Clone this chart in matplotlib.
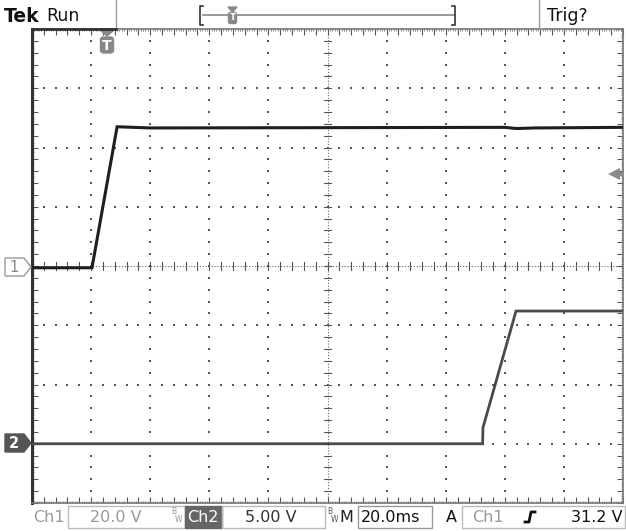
import numpy as np
import matplotlib
matplotlib.use("Agg")
import matplotlib.pyplot as plt
from matplotlib.patches import Polygon, Rectangle, FancyBboxPatch

# scope settings
ch1_scale = 20.0      # V/div
ch2_scale = 5.00      # V/div
time_scale = 20.0     # ms/div
ch2_offset = -3.0     # div
trig_level = 31.2     # V

# Ch1 trace (ms, V)
ch1_t = [0, 20.3, 28.8, 40, 160, 164, 170, 200]
ch1_v = [-0.6, -0.6, 47.0, 46.6, 46.8, 46.4, 46.6, 46.8]

# Ch2 trace (ms, V)
ch2_t = [0, 152.5, 152.6, 163.8, 200]
ch2_v = [0.0, 0.0, 1.35, 11.2, 11.2]

W, H = 626, 531
fig = plt.figure(figsize=(W / 100, H / 100), dpi=100)
fig.patch.set_facecolor("white")

# graticule axes (10 x 8 divisions)
L, R, T, B = 32, 623, 29, 503
ax = fig.add_axes([L / W, (H - B) / H, (R - L) / W, (B - T) / H])
ax.set_xlim(0, 10)
ax.set_ylim(-4, 4)
for s in ax.spines.values():
    s.set_color("#777777")
    s.set_linewidth(1.2)
ax.spines["left"].set_color("#333333")
ax.spines["left"].set_linewidth(2.2)
ax.set_xticks(np.arange(0, 10.01, 0.2))
ax.set_yticks(np.arange(-4, 4.01, 0.2))
ax.set_xticks(np.arange(0, 10.01, 0.04), minor=True)
ax.set_yticks(np.arange(-4, 4.01, 0.04), minor=True)
ax.tick_params(which="major", direction="in", length=4, width=0.8, color="#555555",
               top=True, right=True, labelbottom=False, labelleft=False)
ax.tick_params(which="minor", direction="in", length=1.2, width=0.6, color="#777777",
               top=True, right=True)

dot = dict(s=1.6, marker="s", c="#555555", linewidths=0, zorder=1)
fine = np.arange(0.2, 10, 0.2)
fine_y = np.arange(-3.8, 4, 0.2)
for gx in range(1, 10):
    if gx != 5:
        ax.scatter(np.full(len(fine_y), gx), fine_y, **dot)
for gy in range(-3, 4):
    if gy != 0:
        ax.scatter(fine, np.full(len(fine), gy), **dot)

# center cross with ticks
ax.plot([0, 10], [0, 0], color="#666666", lw=0.8, ls=(0, (1, 1.6)), zorder=1)
ax.plot([5, 5], [-4, 4], color="#666666", lw=0.8, ls=(0, (1, 1.6)), zorder=1)
for v in fine:
    ax.plot([v, v], [-0.06, 0.06], color="#555555", lw=0.8, zorder=1)
for v in fine_y:
    ax.plot([4.94, 5.06], [v, v], color="#555555", lw=0.8, zorder=1)

# traces
ax.plot(np.array(ch1_t) / time_scale, np.array(ch1_v) / ch1_scale,
        color="#1e1e1e", lw=2.2, solid_joinstyle="miter", zorder=3)
ax.plot(np.array(ch2_t) / time_scale, np.array(ch2_v) / ch2_scale + ch2_offset,
        color="#4a4a4a", lw=2.0, solid_joinstyle="miter", zorder=3)

# trigger level arrow on the right edge
ty = trig_level / ch1_scale
ax.plot([9.88, 10.0], [ty, ty], color="#8a8a8a", lw=3, clip_on=False, zorder=4,
        solid_capstyle="butt")
ax.plot([9.85], [ty], marker="<", markersize=8, color="#8a8a8a", clip_on=False,
        zorder=4, markeredgewidth=0)

# decorations in pixel coordinates
d = fig.add_axes([0, 0, 1, 1], zorder=5)
d.set_xlim(0, W)
d.set_ylim(H, 0)
d.axis("off")
d.patch.set_alpha(0)

font = "DejaVu Sans"
d.text(4, 17, "Tek", fontsize=13.5, fontweight="bold", family=font, va="center", color="#111111")
d.text(46, 16, "Run", fontsize=12.5, family=font, va="center", color="#111111")
d.text(547, 16, "Trig?", fontsize=12.5, family=font, va="center", color="#111111")
d.plot([116, 116], [0, 28], color="#999999", lw=1)
d.plot([539, 539], [0, 28], color="#999999", lw=1)
d.plot([32, 116], [29, 29], color="#333333", lw=2)

# record bar
d.plot([203, 454], [15, 15], color="#888888", lw=1.2)
d.plot([203, 200, 200, 203], [6, 6, 25, 25], color="#333333", lw=1.2)
d.plot([452, 455, 455, 452], [6, 6, 25, 25], color="#333333", lw=1.2)
d.add_patch(Polygon([[228, 7], [237, 7], [232.5, 12]], closed=True, color="#888888"))
d.add_patch(FancyBboxPatch((228.5, 12.5), 8, 11, boxstyle="round,pad=0,rounding_size=2",
                           color="#888888"))
d.text(232.5, 18, "T", fontsize=6.5, fontweight="bold", color="white", ha="center", va="center")

# trigger position marker
d.add_patch(Polygon([[100, 30], [114, 30], [107, 36]], closed=True, color="#888888"))
d.add_patch(FancyBboxPatch((100.5, 37), 13, 16, boxstyle="round,pad=0,rounding_size=3",
                           color="#888888"))
d.text(107, 45.5, "T", fontsize=10, fontweight="bold", color="white", ha="center", va="center")

# channel ground markers
d.add_patch(Polygon([[5, 258], [24, 258], [31, 267], [24, 276], [5, 276]], closed=True,
                    facecolor="white", edgecolor="#999999", lw=1))
d.text(14, 267, "1", fontsize=10.5, color="#888888", ha="center", va="center")
d.add_patch(Polygon([[5, 434], [24, 434], [31, 443], [24, 452], [5, 452]], closed=True,
                    facecolor="#555555", edgecolor="#555555", lw=1))
d.text(14, 443, "2", fontsize=10.5, fontweight="bold", color="white", ha="center", va="center")

# bottom readout
by = 517
fs = 11.5
d.text(33, by, "Ch1", fontsize=fs, color="#999999", va="center", family=font)
d.add_patch(Rectangle((68, 506), 117, 22, fill=False, edgecolor="#bbbbbb", lw=1))
d.text(90, by, "20.0 V", fontsize=fs, color="#999999", va="center", family=font)
d.text(171, 512, "B", fontsize=5.5, color="#999999", va="center")
d.text(175, 519, "W", fontsize=5.5, color="#999999", va="center")
d.add_patch(Rectangle((185, 506), 37, 22, facecolor="#666666", edgecolor="#666666"))
d.text(187, by, "Ch2", fontsize=fs, color="white", va="center", family=font)
d.add_patch(Rectangle((222, 506), 103, 22, fill=False, edgecolor="#bbbbbb", lw=1))
d.text(245, by, "5.00 V", fontsize=fs, color="#333333", va="center", family=font)
d.text(327, 512, "B", fontsize=5.5, color="#555555", va="center")
d.text(331, 519, "W", fontsize=5.5, color="#555555", va="center")
d.text(339, by, "M", fontsize=fs, color="#222222", va="center", family=font)
d.add_patch(Rectangle((358, 506), 74, 22, fill=False, edgecolor="#999999", lw=1))
d.text(361, by, "20.0ms", fontsize=fs, color="#111111", va="center", family=font)
d.text(446, by, "A", fontsize=fs, color="#111111", va="center", family=font)
d.add_patch(Rectangle((462, 506), 163, 22, fill=False, edgecolor="#bbbbbb", lw=1))
d.text(472, by, "Ch1", fontsize=fs, color="#999999", va="center", family=font)
d.plot([525, 529, 531, 535], [522, 522, 512, 512], color="#111111", lw=2)
d.text(623, by, "31.2 V", fontsize=fs, color="#111111", va="center", ha="right", family=font)

fig.savefig("out.png", dpi=100)
